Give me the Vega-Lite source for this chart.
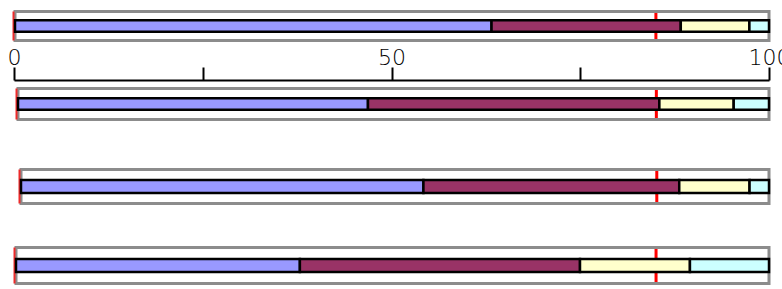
{
  "$schema": "https://vega.github.io/schema/vega-lite/v6.json",
  "padding": {"left": 7, "top": 0, "right": 0, "bottom": 0},
  "spacing": 0,
  "bounds": "flush",
  "config": {"view": {"stroke": null}},
  "datasets": {
    "seg": [
      {"row": 1, "seg": "A", "k": 1, "value": 63.2},
      {"row": 1, "seg": "B", "k": 2, "value": 25.1},
      {"row": 1, "seg": "C", "k": 3, "value": 9.1},
      {"row": 1, "seg": "D", "k": 4, "value": 2.6},
      {"row": 2, "seg": "A", "k": 1, "value": 46.6},
      {"row": 2, "seg": "B", "k": 2, "value": 38.8},
      {"row": 2, "seg": "C", "k": 3, "value": 9.9},
      {"row": 2, "seg": "D", "k": 4, "value": 4.7},
      {"row": 3, "seg": "A", "k": 1, "value": 53.8},
      {"row": 3, "seg": "B", "k": 2, "value": 34.2},
      {"row": 3, "seg": "C", "k": 3, "value": 9.4},
      {"row": 3, "seg": "D", "k": 4, "value": 2.6},
      {"row": 4, "seg": "A", "k": 1, "value": 37.7},
      {"row": 4, "seg": "B", "k": 2, "value": 37.2},
      {"row": 4, "seg": "C", "k": 3, "value": 14.6},
      {"row": 4, "seg": "D", "k": 4, "value": 10.5}
    ],
    "ref": [
      {"row": 1, "lo": 0, "hi": 100, "target": 85},
      {"row": 2, "lo": 0, "hi": 100, "target": 85},
      {"row": 3, "lo": 0, "hi": 100, "target": 85},
      {"row": 4, "lo": 0, "hi": 100, "target": 85}
    ]
  },
  "vconcat": [
    {
      "width": 755, "height": 80,
      "layer": [
        {"data": {"name": "ref"}, "transform": [{"filter": "datum.row == 1"}],
         "mark": {"type": "bar", "fill": "white", "stroke": null},
         "encoding": {
           "x": {"field": "lo", "type": "quantitative", "axis": null, "scale": {"domain": [-0.133, 100], "nice": false, "zero": false}},
           "x2": {"field": "hi"},
           "y": {"field": "row", "type": "nominal", "axis": null, "scale": {"paddingInner": 0, "paddingOuter": 0.8793, "align": 0.2255}}
         }},
        {"data": {"name": "ref"}, "transform": [{"filter": "datum.row == 1"}],
         "mark": {"type": "rect", "fill": "#ff0000", "stroke": "#ff0000", "strokeWidth": 3},
         "encoding": {
           "x": {"field": "target", "type": "quantitative"},
           "x2": {"field": "target"},
           "y": {"field": "row", "type": "nominal"}
         }},
        {"data": {"name": "ref"}, "transform": [{"filter": "datum.row == 1"}],
         "mark": {"type": "bar", "fill": null, "fillOpacity": 0, "stroke": "#8c8c8c", "strokeWidth": 3},
         "encoding": {
           "x": {"field": "lo", "type": "quantitative"},
           "x2": {"field": "hi"},
           "y": {"field": "row", "type": "nominal"}
         }},
        {"data": {"name": "ref"}, "transform": [{"filter": "datum.row == 1"}],
         "mark": {"type": "rect", "fill": "#ee2a2a", "stroke": "#ee2a2a", "strokeWidth": 2, "xOffset": -1.5, "x2Offset": -1.5},
         "encoding": {
           "x": {"field": "lo", "type": "quantitative"},
           "x2": {"field": "lo"},
           "y": {"field": "row", "type": "nominal"}
         }},
        {"data": {"name": "seg"}, "transform": [{"filter": "datum.row == 1"}],
         "mark": {"type": "bar", "height": {"band": 0.397}, "stroke": "black", "strokeWidth": 2.5},
         "encoding": {
           "x": {"field": "value", "type": "quantitative", "stack": "zero"},
           "y": {"field": "row", "type": "nominal"},
           "color": {"field": "seg", "type": "nominal", "legend": null, "scale": {"domain": ["A", "B", "C", "D"], "range": ["#9999ff", "#993366", "#ffffcc", "#ccffff"]}},
           "order": {"field": "k"}
         }}
      ]
    },
    {
      "width": 755, "height": 1,
      "data": {"name": "ref"},
      "mark": {"type": "tick", "opacity": 0},
      "encoding": {
        "x": {"field": "target", "type": "quantitative",
              "scale": {"domain": [0, 100], "nice": false, "zero": false},
              "axis": {"orient": "top", "title": null, "grid": false, "values": [0, 25, 50, 75, 100],
                       "labelExpr": "datum.value % 50 == 0 ? datum.label : ''",
                       "labelFlush": false, "labelOverlap": false,
                       "domainColor": "black", "domainWidth": 2, "tickColor": "black", "tickWidth": 2, "tickSize": 13,
                       "labelFont": "DejaVu Sans", "labelFontWeight": 200, "labelFontSize": 22, "labelColor": "black", "labelPadding": -2}}
      }
    },
    {
      "width": 755, "height": 64,
      "layer": [
        {"data": {"name": "ref"}, "transform": [{"filter": "datum.row == 2"}],
         "mark": {"type": "bar", "fill": "white", "stroke": null},
         "encoding": {
           "x": {"field": "lo", "type": "quantitative", "axis": null, "scale": {"domain": [-0.533, 100], "nice": false, "zero": false}},
           "x2": {"field": "hi"},
           "y": {"field": "row", "type": "nominal", "axis": null, "scale": {"paddingInner": 0, "paddingOuter": 0.5323, "align": 0.2273}}
         }},
        {"data": {"name": "ref"}, "transform": [{"filter": "datum.row == 2"}],
         "mark": {"type": "rect", "fill": "#ff0000", "stroke": "#ff0000", "strokeWidth": 3},
         "encoding": {
           "x": {"field": "target", "type": "quantitative"},
           "x2": {"field": "target"},
           "y": {"field": "row", "type": "nominal"}
         }},
        {"data": {"name": "ref"}, "transform": [{"filter": "datum.row == 2"}],
         "mark": {"type": "bar", "fill": null, "fillOpacity": 0, "stroke": "#8c8c8c", "strokeWidth": 3},
         "encoding": {
           "x": {"field": "lo", "type": "quantitative"},
           "x2": {"field": "hi"},
           "y": {"field": "row", "type": "nominal"}
         }},
        {"data": {"name": "ref"}, "transform": [{"filter": "datum.row == 2"}],
         "mark": {"type": "rect", "fill": "#ee2a2a", "stroke": "#ee2a2a", "strokeWidth": 2, "xOffset": -1.5, "x2Offset": -1.5},
         "encoding": {
           "x": {"field": "lo", "type": "quantitative"},
           "x2": {"field": "lo"},
           "y": {"field": "row", "type": "nominal"}
         }},
        {"data": {"name": "seg"}, "transform": [{"filter": "datum.row == 2"}],
         "mark": {"type": "bar", "height": {"band": 0.371}, "stroke": "black", "strokeWidth": 2.5},
         "encoding": {
           "x": {"field": "value", "type": "quantitative", "stack": "zero"},
           "y": {"field": "row", "type": "nominal"},
           "color": {"field": "seg", "type": "nominal", "legend": null, "scale": {"domain": ["A", "B", "C", "D"], "range": ["#9999ff", "#993366", "#ffffcc", "#ccffff"]}},
           "order": {"field": "k"}
         }}
      ]
    },
    {
      "width": 755, "height": 81,
      "layer": [
        {"data": {"name": "ref"}, "transform": [{"filter": "datum.row == 3"}],
         "mark": {"type": "bar", "fill": "white", "stroke": null},
         "encoding": {
           "x": {"field": "lo", "type": "quantitative", "axis": null, "scale": {"domain": [-0.936, 100], "nice": false, "zero": false}},
           "x2": {"field": "hi"},
           "y": {"field": "row", "type": "nominal", "axis": null, "scale": {"paddingInner": 0, "paddingOuter": 0.6912, "align": 0.5213}}
         }},
        {"data": {"name": "ref"}, "transform": [{"filter": "datum.row == 3"}],
         "mark": {"type": "rect", "fill": "#ff0000", "stroke": "#ff0000", "strokeWidth": 3},
         "encoding": {
           "x": {"field": "target", "type": "quantitative"},
           "x2": {"field": "target"},
           "y": {"field": "row", "type": "nominal"}
         }},
        {"data": {"name": "ref"}, "transform": [{"filter": "datum.row == 3"}],
         "mark": {"type": "bar", "fill": null, "fillOpacity": 0, "stroke": "#8c8c8c", "strokeWidth": 3},
         "encoding": {
           "x": {"field": "lo", "type": "quantitative"},
           "x2": {"field": "hi"},
           "y": {"field": "row", "type": "nominal"}
         }},
        {"data": {"name": "ref"}, "transform": [{"filter": "datum.row == 3"}],
         "mark": {"type": "rect", "fill": "#ee2a2a", "stroke": "#ee2a2a", "strokeWidth": 2, "xOffset": -1.5, "x2Offset": -1.5},
         "encoding": {
           "x": {"field": "lo", "type": "quantitative"},
           "x2": {"field": "lo"},
           "y": {"field": "row", "type": "nominal"}
         }},
        {"data": {"name": "seg"}, "transform": [{"filter": "datum.row == 3"}],
         "mark": {"type": "bar", "height": {"band": 0.376}, "stroke": "black", "strokeWidth": 2.5},
         "encoding": {
           "x": {"field": "value", "type": "quantitative", "stack": "zero"},
           "y": {"field": "row", "type": "nominal"},
           "color": {"field": "seg", "type": "nominal", "legend": null, "scale": {"domain": ["A", "B", "C", "D"], "range": ["#9999ff", "#993366", "#ffffcc", "#ccffff"]}},
           "order": {"field": "k"}
         }}
      ]
    },
    {
      "width": 755, "height": 63,
      "layer": [
        {"data": {"name": "ref"}, "transform": [{"filter": "datum.row == 4"}],
         "mark": {"type": "bar", "fill": "white", "stroke": null},
         "encoding": {
           "x": {"field": "lo", "type": "quantitative", "axis": null, "scale": {"domain": [-0.266, 100], "nice": false, "zero": false}},
           "x2": {"field": "hi"},
           "y": {"field": "row", "type": "nominal", "axis": null, "scale": {"paddingInner": 0, "paddingOuter": 0.375, "align": 0.7963}}
         }},
        {"data": {"name": "ref"}, "transform": [{"filter": "datum.row == 4"}],
         "mark": {"type": "rect", "fill": "#ff0000", "stroke": "#ff0000", "strokeWidth": 3},
         "encoding": {
           "x": {"field": "target", "type": "quantitative"},
           "x2": {"field": "target"},
           "y": {"field": "row", "type": "nominal"}
         }},
        {"data": {"name": "ref"}, "transform": [{"filter": "datum.row == 4"}],
         "mark": {"type": "bar", "fill": null, "fillOpacity": 0, "stroke": "#8c8c8c", "strokeWidth": 3},
         "encoding": {
           "x": {"field": "lo", "type": "quantitative"},
           "x2": {"field": "hi"},
           "y": {"field": "row", "type": "nominal"}
         }},
        {"data": {"name": "ref"}, "transform": [{"filter": "datum.row == 4"}],
         "mark": {"type": "rect", "fill": "#ee2a2a", "stroke": "#ee2a2a", "strokeWidth": 2, "xOffset": -1.5, "x2Offset": -1.5},
         "encoding": {
           "x": {"field": "lo", "type": "quantitative"},
           "x2": {"field": "lo"},
           "y": {"field": "row", "type": "nominal"}
         }},
        {"data": {"name": "seg"}, "transform": [{"filter": "datum.row == 4"}],
         "mark": {"type": "bar", "height": {"band": 0.367}, "stroke": "black", "strokeWidth": 2.5},
         "encoding": {
           "x": {"field": "value", "type": "quantitative", "stack": "zero"},
           "y": {"field": "row", "type": "nominal"},
           "color": {"field": "seg", "type": "nominal", "legend": null, "scale": {"domain": ["A", "B", "C", "D"], "range": ["#9999ff", "#993366", "#ffffcc", "#ccffff"]}},
           "order": {"field": "k"}
         }}
      ]
    }
  ]
}
